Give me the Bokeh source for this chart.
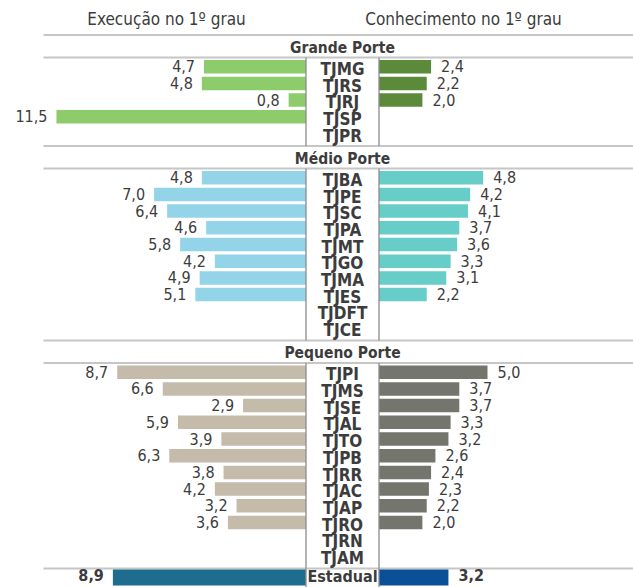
from bokeh.plotting import figure
from bokeh.models import Range1d, ColumnDataSource
from bokeh.core.properties import value
from bokeh.embed import file_html
from bokeh.resources import INLINE

# ---------------- data ----------------
header_left = "Execução no 1º grau"
header_right = "Conhecimento no 1º grau"

group_names = ["Grande Porte", "Médio Porte", "Pequeno Porte"]

grande_courts = ["TJMG", "TJRS", "TJRJ", "TJSP", "TJPR"]
grande_exec = [4.7, 4.8, 0.8, 11.5, None]
grande_conh = [2.4, 2.2, 2.0, None, None]

medio_courts = ["TJBA", "TJPE", "TJSC", "TJPA", "TJMT", "TJGO", "TJMA", "TJES", "TJDFT", "TJCE"]
medio_exec = [4.8, 7.0, 6.4, 4.6, 5.8, 4.2, 4.9, 5.1, None, None]
medio_conh = [4.8, 4.2, 4.1, 3.7, 3.6, 3.3, 3.1, 2.2, None, None]

pequeno_courts = ["TJPI", "TJMS", "TJSE", "TJAL", "TJTO", "TJPB", "TJRR", "TJAC", "TJAP", "TJRO", "TJRN", "TJAM"]
pequeno_exec = [8.7, 6.6, 2.9, 5.9, 3.9, 6.3, 3.8, 4.2, 3.2, 3.6, None, None]
pequeno_conh = [5.0, 3.7, 3.7, 3.3, 3.2, 2.6, 2.4, 2.3, 2.2, 2.0, None, None]

total_label = ["Estadual"]
total_exec = [8.9]
total_conh = [3.2]

# ---------------- styles ----------------
colors_left = ["#8DCB6B", "#93D4E9", "#C4BBAA", "#1E6D8E"]
colors_right = ["#5B8A3A", "#66CDC9", "#74756C", "#0B4F98"]
FONT = value("'DejaVu Sans Condensed', 'Liberation Sans Narrow', Roboto, sans-serif")
TXT = "#3C3C3C"

W, H = 633, 587
PX = 21.7            # pixels per unit
CX = 342.0           # centre of the middle column (px)
G = 36.5 / PX        # half width of the centre column (units)
ROW = 16.7
BAR_H = 13.5
BAR_DY = -1.3        # bars sit slightly above the row centre
TXT_DY = 0.8         # court names sit slightly below
PAD_TOP = 10.5
PAD_BOT = 5.0
LBL_H = 22.5
LINE0 = 34.5

p = figure(width=W, height=H, output_backend="svg", toolbar_location=None,
           x_range=Range1d((0 - CX) / PX, (W - CX) / PX),
           y_range=Range1d(H, 0), min_border=0, outline_line_color=None)
p.axis.visible = False
p.grid.visible = False
p.background_fill_color = "white"

def fmt(v):
    return f"{v:.1f}".replace(".", ",")

groups = [
    (grande_courts, grande_exec, grande_conh),
    (medio_courts, medio_exec, medio_conh),
    (pequeno_courts, pequeno_exec, pequeno_conh),
]

hlines = [LINE0]
vsegs = []
rows = dict(y=[], court=[], ex=[], co=[], cl=[], cr=[])
group_lbl_y = []
y = LINE0
for gi, (courts, ex, co) in enumerate(groups):
    group_lbl_y.append(y + 12.5)
    top = y + LBL_H
    hlines.append(top)
    for i, c in enumerate(courts):
        rows["y"].append(top + PAD_TOP + i * ROW)
        rows["court"].append(c)
        rows["ex"].append(ex[i])
        rows["co"].append(co[i])
        rows["cl"].append(colors_left[gi])
        rows["cr"].append(colors_right[gi])
    bot = top + len(courts) * ROW + PAD_BOT
    hlines.append(bot)
    vsegs.append((top, bot))
    y = bot

tot_y = y + PAD_TOP
vsegs.append((y, H + 20))

x_line0 = (43 - CX) / PX
x_line1 = (W + 50 - CX) / PX

p.segment(x0=[x_line0] * len(hlines), x1=[x_line1] * len(hlines), y0=hlines, y1=hlines,
          line_color="#C6C6C6", line_width=2)

def bars(ys, vals, cols, side, dy):
    d = dict(y=[], ty=[], left=[], right=[], c=[], tx=[], t=[])
    for yy, v, c in zip(ys, vals, cols):
        if v is None:
            continue
        d["y"].append(yy + BAR_DY)
        d["ty"].append(yy + dy)
        d["c"].append(c)
        d["t"].append(fmt(v))
        if side < 0:
            d["left"].append(-(G + v))
            d["right"].append(-G)
            d["tx"].append(-(G + v) - 9 / PX)
        else:
            d["left"].append(G)
            d["right"].append(G + v)
            d["tx"].append(G + v + 10 / PX)
    return ColumnDataSource(d)

srcL = bars(rows["y"], rows["ex"], rows["cl"], -1, -1.8)
srcR = bars(rows["y"], rows["co"], rows["cr"], 1, -1.8)
srcTL = bars([tot_y], total_exec, [colors_left[3]], -1, -4.0)
srcTR = bars([tot_y], total_conh, [colors_right[3]], 1, -4.0)

for s, h in ((srcL, BAR_H), (srcR, BAR_H), (srcTL, 16), (srcTR, 16)):
    p.hbar(y="y", left="left", right="right", height=h, fill_color="c", line_color=None, source=s)

for s, al in ((srcL, "right"), (srcR, "left")):
    p.text(x="tx", y="ty", text="t", source=s, text_align=al, text_baseline="middle",
           text_font=FONT, text_font_size="16px", text_color=TXT)
for s, al in ((srcTL, "right"), (srcTR, "left")):
    p.text(x="tx", y="ty", text="t", source=s, text_align=al, text_baseline="middle",
           text_font=FONT, text_font_size="16px", text_font_style="bold", text_color=TXT)

for (a, b) in vsegs:
    p.segment(x0=[-G, G], x1=[-G, G], y0=[a, a], y1=[b, b], line_color="#8C8C8C", line_width=1.3)

p.text(x=[0] * len(rows["y"]), y=[v + TXT_DY for v in rows["y"]], text=rows["court"],
       text_align="center", text_baseline="middle", text_font=FONT, text_font_size="17px",
       text_font_style="bold", text_color=TXT)
p.text(x=[0], y=[tot_y - 2.5], text=total_label, text_align="center", text_baseline="middle",
       text_font=FONT, text_font_size="16px", text_font_style="bold", text_color=TXT)

p.text(x=[0] * 3, y=group_lbl_y, text=group_names, text_align="center", text_baseline="middle",
       text_font=FONT, text_font_size="15.5px", text_font_style="bold", text_color=TXT)

p.text(x=[(166 - CX) / PX, (463 - CX) / PX], y=[18, 18], text=[header_left, header_right],
       text_align="center", text_baseline="middle", text_font=FONT, text_font_size="17px",
       text_color=TXT)

open("out.html", "w").write(file_html(p, INLINE))
